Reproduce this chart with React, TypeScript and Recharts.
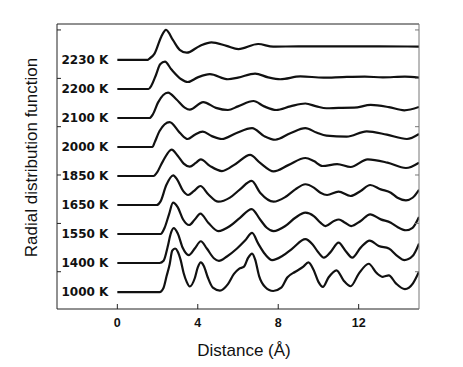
import React from 'react';
import { LineChart, Line, XAxis, YAxis, Label } from 'recharts';

// each curve: [distance in Å, g(r)], stacked with an offset
const rdf1000: [number, number][] = [
  [0, 0], [2.1, 0], [2.3, 0.3], [2.45, 1.1], [2.6, 1.9], [2.73, 2.85], [2.87, 3.0], [3.0, 2.8], [3.15, 2.2], [3.3, 1.3],
  [3.45, 0.7], [3.6, 0.38], [3.85, 0.95], [4.0, 1.7], [4.15, 2.05], [4.3, 1.8], [4.5, 1.0], [4.75, 0.3], [5.1, 0.1], [5.5, 0.55],
  [5.8, 1.25], [6.05, 1.6], [6.3, 1.75], [6.5, 2.35], [6.7, 2.65], [6.85, 2.25], [7.05, 1.1], [7.35, 0.35], [7.75, 0.07], [8.15, 0.3],
  [8.45, 1.0], [8.85, 1.4], [9.25, 1.75], [9.5, 2.05], [9.75, 1.55], [10.0, 0.7], [10.22, 0.35], [10.5, 1.0], [10.9, 1.5], [11.25, 0.8],
  [11.6, 0.4], [12.0, 1.25], [12.5, 1.95], [12.9, 1.3], [13.2, 1.05], [13.5, 1.15], [13.85, 0.6], [14.3, 0.2], [14.7, 0.6], [15.0, 1.4],
];
const rdf1400: [number, number][] = [
  [0, 0], [2.1, 0], [2.3, 0.15], [2.5, 1.1], [2.65, 2.0], [2.8, 2.4], [3.0, 2.05], [3.25, 1.05], [3.55, 0.55], [3.85, 1.0],
  [4.15, 1.5], [4.45, 1.0], [4.8, 0.33], [5.05, 0.15], [5.45, 0.45], [5.95, 1.0], [6.35, 1.55], [6.7, 2.08], [7.0, 1.35], [7.35, 0.6],
  [7.7, 0.2], [8.2, 0.48], [8.7, 1.0], [9.35, 1.65], [9.7, 1.3], [10.0, 0.72], [10.27, 0.37], [10.6, 0.75], [11.0, 1.4], [11.35, 0.83],
  [11.68, 0.37], [12.1, 1.06], [12.55, 1.55], [13.0, 1.17], [13.5, 1.0], [13.93, 0.48], [14.27, 0.2], [14.68, 0.48], [15.0, 1.34],
];
const rdf1550: [number, number][] = [
  [0, 0], [2.15, 0], [2.35, 0.43], [2.57, 1.36], [2.77, 2.16], [3.0, 1.85], [3.27, 1.0], [3.57, 0.62], [3.85, 1.0], [4.13, 1.4],
  [4.52, 0.78], [5.02, 0.2], [5.6, 0.55], [6.1, 1.12], [6.68, 1.72], [7.1, 1.0], [7.43, 0.43], [7.77, 0.2], [8.35, 0.55], [8.85, 1.12],
  [9.35, 1.47], [9.77, 1.24], [10.1, 0.78], [10.35, 0.55], [10.77, 0.9], [11.02, 1.0], [11.3, 0.8], [11.63, 0.55], [12.1, 0.9], [12.57, 1.36],
  [13.1, 1.01], [13.6, 0.78], [13.93, 0.48], [14.35, 0.26], [14.68, 0.43], [15.0, 1.17],
];
const rdf1650: [number, number][] = [
  [0, 0], [1.95, 0], [2.15, 0.25], [2.43, 1.36], [2.78, 2.05], [2.97, 1.77], [3.27, 0.97], [3.52, 0.69], [3.8, 0.95], [4.13, 1.31],
  [4.52, 0.74], [5.02, 0.23], [5.6, 0.51], [6.1, 1.08], [6.68, 1.66], [7.1, 0.85], [7.77, 0.23], [8.35, 0.55], [8.85, 1.08], [9.35, 1.43],
  [9.77, 1.2], [10.1, 0.85], [10.43, 0.69], [11.0, 0.92], [11.6, 0.62], [12.1, 0.97], [12.57, 1.38], [13.1, 1.08], [13.6, 0.85], [13.93, 0.5],
  [14.35, 0.32], [14.68, 0.5], [15.0, 1.05],
];
const rdf1850: [number, number][] = [
  [0, 0], [1.8, 0], [1.95, 0.2], [2.27, 1.03], [2.7, 1.82], [3.0, 1.4], [3.3, 0.85], [3.6, 0.64], [3.9, 0.9], [4.15, 1.15],
  [4.6, 0.7], [5.2, 0.34], [5.9, 0.85], [6.6, 1.45], [7.1, 0.9], [7.77, 0.32], [8.5, 0.75], [9.35, 1.24], [9.77, 1.03], [10.2, 0.69],
  [10.93, 0.82], [11.6, 0.62], [12.45, 1.15], [13.43, 0.92], [14.35, 0.55], [15.0, 0.92],
];
const rdf2000: [number, number][] = [
  [0, 0], [1.75, 0], [1.85, 0.3], [2.1, 1.1], [2.6, 1.72], [3.1, 0.99], [3.5, 0.55], [3.85, 0.85], [4.25, 1.06], [4.7, 0.75],
  [5.2, 0.55], [5.9, 0.95], [6.7, 1.3], [7.3, 0.75], [7.85, 0.5], [8.6, 0.95], [9.35, 1.3], [9.9, 1.0], [10.4, 0.78], [11.4, 0.71],
  [12.4, 1.08], [13.4, 0.85], [14.4, 0.55], [15.0, 0.9],
];
const rdf2100: [number, number][] = [
  [0, 0], [1.6, 0], [1.77, 0.26], [2.02, 1.06], [2.52, 1.75], [2.93, 1.29], [3.35, 0.71], [3.6, 0.57], [4.27, 1.1], [4.9, 0.7],
  [5.5, 0.55], [6.0, 0.8], [6.77, 1.17], [7.3, 0.8], [7.9, 0.55], [8.6, 0.8], [9.35, 1.0], [9.9, 0.8], [10.4, 0.67], [11.0, 0.7],
  [11.77, 0.71], [12.6, 0.9], [13.5, 0.75], [14.27, 0.53], [15.0, 0.76],
];
const rdf2200: [number, number][] = [
  [0, 0], [1.55, 0], [1.68, 0.2], [1.93, 1.0], [2.13, 1.7], [2.37, 1.88], [2.68, 1.36], [3.18, 0.67], [3.5, 0.48], [4.0, 0.8],
  [4.6, 1.02], [5.5, 0.67], [6.0, 0.78], [6.85, 1.06], [7.5, 0.8], [8.1, 0.67], [9.1, 0.87], [10.25, 0.78], [11.2, 0.82], [12.3, 0.85],
  [13.2, 0.8], [14.3, 0.85], [15.0, 0.78],
];
const rdf2230: [number, number][] = [
  [0, 0], [1.5, 0], [1.6, 0.1], [1.85, 0.44], [2.18, 1.59], [2.42, 2.08], [2.77, 1.36], [3.1, 0.7], [3.45, 0.5], [4.1, 0.97],
  [4.68, 1.22], [5.43, 0.97], [6.02, 0.75], [7.0, 1.1], [7.75, 0.92], [9.0, 0.94], [11.0, 0.94], [13.0, 0.94], [15.0, 0.92],
];

const temps = ['1000 K', '1400 K', '1550 K', '1650 K', '1850 K', '2000 K', '2100 K', '2200 K', '2230 K'];
const offsets = [0, 2, 4, 6, 8, 10, 12, 14, 16];
const curves = [rdf1000, rdf1400, rdf1550, rdf1650, rdf1850, rdf2000, rdf2100, rdf2200, rdf2230];

const xTicks = [0, 4, 8, 12];
const yTicks = [1.4, 4.73, 8.07, 11.4, 14.73, 18.07];

const series = curves.map((pts, i) => ({
  name: temps[i],
  data: pts.map(([r, g]) => ({ r, v: g + offsets[i] })),
}));

const font = '"Liberation Sans", Arial, sans-serif';
const frame = '#222';

function tempLabel(name: string) {
  return (props: any) => {
    if (props.index !== 0) return null;
    return (
      <text
        x={props.x - 9}
        y={props.y}
        textAnchor="end"
        dominantBaseline="central"
        fontFamily='"DejaVu Sans", sans-serif'
        fontWeight="bold"
        fontSize={12}
        fill="#111"
      >
        {name}
      </text>
    );
  };
}

export default function App() {
  return (
    <div style={{ width: 447, height: 351 }}>
      <LineChart width={447} height={351} margin={{ top: 15, right: 35, left: 48, bottom: 49 }}>
        <XAxis
          dataKey="r"
          type="number"
          domain={[-3, 15]}
          ticks={xTicks}
          allowDataOverflow
          height={1}
          tickSize={-5}
          tickMargin={14}
          stroke={frame}
          tick={{ fontSize: 12.5, fontFamily: font, fontWeight: 'bold', fill: '#111' }}
        >
          <Label
            content={(p: any) => (
              <text
                x={p.viewBox.x + p.viewBox.width / 2 + 6}
                y={342}
                textAnchor="middle"
                dominantBaseline="central"
                fontFamily={font}
                fontSize={17}
                fill="#111"
              >
                Distance (Å)
              </text>
            )}
          />
        </XAxis>
        <XAxis
          xAxisId="top"
          orientation="top"
          type="number"
          domain={[-3, 15]}
          ticks={xTicks}
          allowDataOverflow
          height={1}
          tickSize={-5}
          tickFormatter={() => ''}
          stroke={frame}
        />
        <YAxis
          type="number"
          domain={[-1.17, 18.48]}
          ticks={yTicks}
          allowDataOverflow
          width={1}
          tickSize={-4}
          tickFormatter={() => ''}
          stroke={frame}
        >
          <Label
            content={() => {
              const x = 23.7;
              const y = 149.5;
              return (
                <text
                  x={x}
                  y={y}
                  transform={`rotate(-90, ${x}, ${y})`}
                  textAnchor="middle"
                  dominantBaseline="central"
                  fontFamily={font}
                  fontSize={17}
                  fill="#111"
                >
                  Radial distribution function
                </text>
              );
            }}
          />
        </YAxis>
        <YAxis
          yAxisId="right"
          orientation="right"
          type="number"
          domain={[-1.17, 18.48]}
          ticks={yTicks}
          allowDataOverflow
          width={1}
          tickSize={-4}
          tickFormatter={() => ''}
          stroke="#777"
        />
        {series.map((s) => (
          <Line
            key={s.name}
            data={s.data}
            dataKey="v"
            type="monotone"
            stroke="#111"
            strokeWidth={2.2}
            dot={false}
            label={tempLabel(s.name)}
            isAnimationActive={false}
          />
        ))}
      </LineChart>
    </div>
  );
}
